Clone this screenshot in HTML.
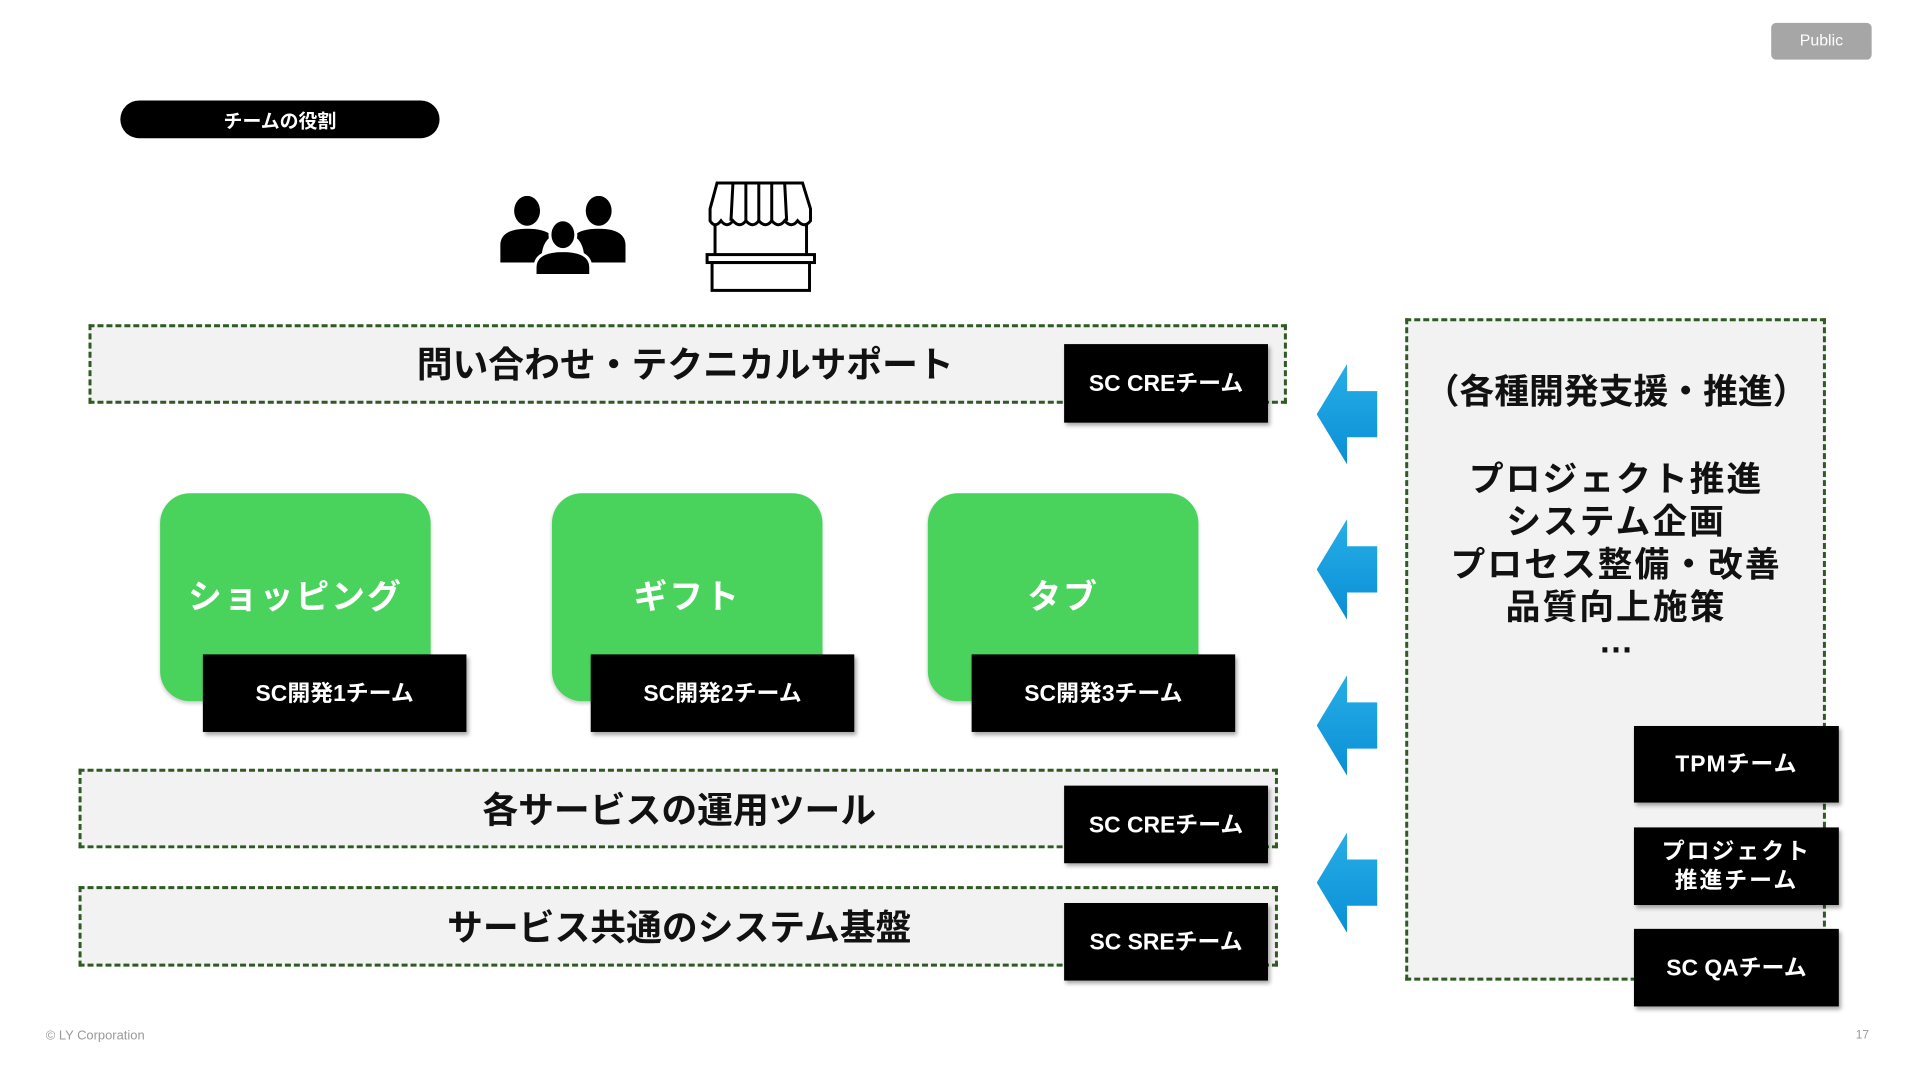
<!DOCTYPE html>
<html><head><meta charset="utf-8"><style>
*{margin:0;padding:0;box-sizing:border-box}
body{width:1920px;height:1080px;background:#fff;position:relative;overflow:hidden;font-family:"Liberation Sans","Noto Sans CJK JP",sans-serif;font-weight:bold}
#w{position:absolute;left:0;top:0;width:1920px;height:1080px;transform:scale(0.9945);transform-origin:0 0}
.a{position:absolute}
.dash{position:absolute;background:#f2f2f2;border:3px dashed #2f5a24}
.tag{position:absolute;background:#000;color:#fff;display:flex;align-items:center;justify-content:center;text-align:center;font-size:23px;box-shadow:2px 3px 4px rgba(0,0,0,.35);line-height:1.25}
.green{position:absolute;background:#4ad35c;border-radius:30px;color:#fff;font-size:34px;display:flex;align-items:center;justify-content:center;padding-bottom:6px;letter-spacing:2px;box-shadow:0 2px 4px rgba(0,0,0,.2)}
.t{position:absolute;font-size:36px;color:#111;white-space:nowrap;transform:translate(-50%,-50%)}
.r{font-size:35px}
.arrow{position:absolute;width:61px;height:101px;background:linear-gradient(#27aee6,#0a8fd6);clip-path:polygon(0 50%,50% 0,50% 27%,100% 27%,100% 73%,50% 73%,50% 100%)}
</style></head><body><div id="w">
<div class="a" style="left:1781px;top:23px;width:101px;height:37px;background:#a6a6a6;border-radius:5px;color:#fff;font-size:16px;font-weight:normal;display:flex;align-items:center;justify-content:center">Public</div>
<div class="a" style="left:121px;top:101px;width:321px;height:38px;background:#000;border-radius:19px;color:#fff;font-size:19px;display:flex;align-items:center;justify-content:center">チームの役割</div>

<svg class="a" style="left:503px;top:197px" width="126" height="80" viewBox="0 0 126 80">
<ellipse cx="27" cy="15" rx="13" ry="15"/><ellipse cx="99" cy="15" rx="13" ry="15"/>
<path d="M0 67 V50 Q0 33 27 33 Q45 33 52 40 Q40 48 42 67 Z"/><path d="M126 67 V50 Q126 33 99 33 Q81 33 74 40 Q86 48 84 67 Z"/>
<ellipse cx="63" cy="39" rx="13" ry="15" stroke="#fff" stroke-width="3"/>
<path d="M35 80 V72 Q35 55 63 55 Q91 55 91 72 V80 Z" stroke="#fff" stroke-width="3"/>
</svg>
<svg class="a" style="left:707px;top:180px" width="116" height="114" viewBox="0 0 116 114" fill="none" stroke="#000" stroke-width="3">
<path d="M14 4 H100 L108 30 V42 Q102 50 95 42 Q89 50 82 42 Q76 50 69 42 Q63 50 56 42 Q50 50 43 42 Q37 50 30 42 Q24 50 18 42 Q12 50 7 42 V30 Z"/>
<path d="M30 4 L28 42 M43 4 L43 42 M56 4 V42 M69 4 L69 42 M82 4 L84 42"/>
<path d="M12 45 V76 M104 45 V76"/><rect x="4" y="76" width="108" height="8"/><rect x="9" y="84" width="98" height="28"/>
</svg>

<div class="dash" style="left:89px;top:326px;width:1205px;height:80px"></div>
<div class="t" style="left:689px;top:364px">問い合わせ・テクニカルサポート</div>
<div class="tag" style="left:1070px;top:346px;width:205px;height:79px">SC CREチーム</div>

<div class="green" style="left:161px;top:496px;width:272px;height:209px">ショッピング</div>
<div class="green" style="left:555px;top:496px;width:272px;height:209px">ギフト</div>
<div class="green" style="left:933px;top:496px;width:272px;height:209px">タブ</div>
<div class="tag" style="left:204px;top:658px;width:265px;height:78px">SC開発1チーム</div>
<div class="tag" style="left:594px;top:658px;width:265px;height:78px">SC開発2チーム</div>
<div class="tag" style="left:977px;top:658px;width:265px;height:78px">SC開発3チーム</div>

<div class="dash" style="left:79px;top:773px;width:1206px;height:80px"></div>
<div class="t" style="left:683px;top:812px">各サービスの運用ツール</div>
<div class="tag" style="left:1070px;top:790px;width:205px;height:78px">SC CREチーム</div>

<div class="dash" style="left:79px;top:891px;width:1206px;height:81px"></div>
<div class="t" style="left:683px;top:930px">サービス共通のシステム基盤</div>
<div class="tag" style="left:1070px;top:908px;width:205px;height:78px">SC SREチーム</div>

<div class="arrow" style="left:1324px;top:366px"></div>
<div class="arrow" style="left:1324px;top:522px"></div>
<div class="arrow" style="left:1324px;top:679px"></div>
<div class="arrow" style="left:1324px;top:837px"></div>

<div class="dash" style="left:1413px;top:320px;width:423px;height:666px"></div>
<div class="t r" style="left:1625px;top:391px">（各種開発支援・推進）</div>
<div class="t r" style="left:1625px;top:479px;letter-spacing:2px">プロジェクト推進</div>
<div class="t r" style="left:1625px;top:522px;letter-spacing:2px">システム企画</div>
<div class="t r" style="left:1625px;top:565px;letter-spacing:2px">プロセス整備・改善</div>
<div class="t r" style="left:1625px;top:608px;letter-spacing:2px">品質向上施策</div>
<div class="t r" style="left:1625px;top:645px">…</div>
<div class="tag" style="left:1643px;top:730px;width:206px;height:77px;letter-spacing:1px">TPMチーム</div>
<div class="tag" style="left:1643px;top:832px;width:206px;height:78px;letter-spacing:2px">プロジェクト<br>推進チーム</div>
<div class="tag" style="left:1643px;top:934px;width:206px;height:78px">SC QAチーム</div>

<div class="a" style="left:46px;top:1033px;font-size:13px;font-weight:normal;color:#999">© LY Corporation</div>
<div class="a" style="left:1866px;top:1033px;font-size:12px;font-weight:normal;color:#999">17</div>
</div></body></html>
